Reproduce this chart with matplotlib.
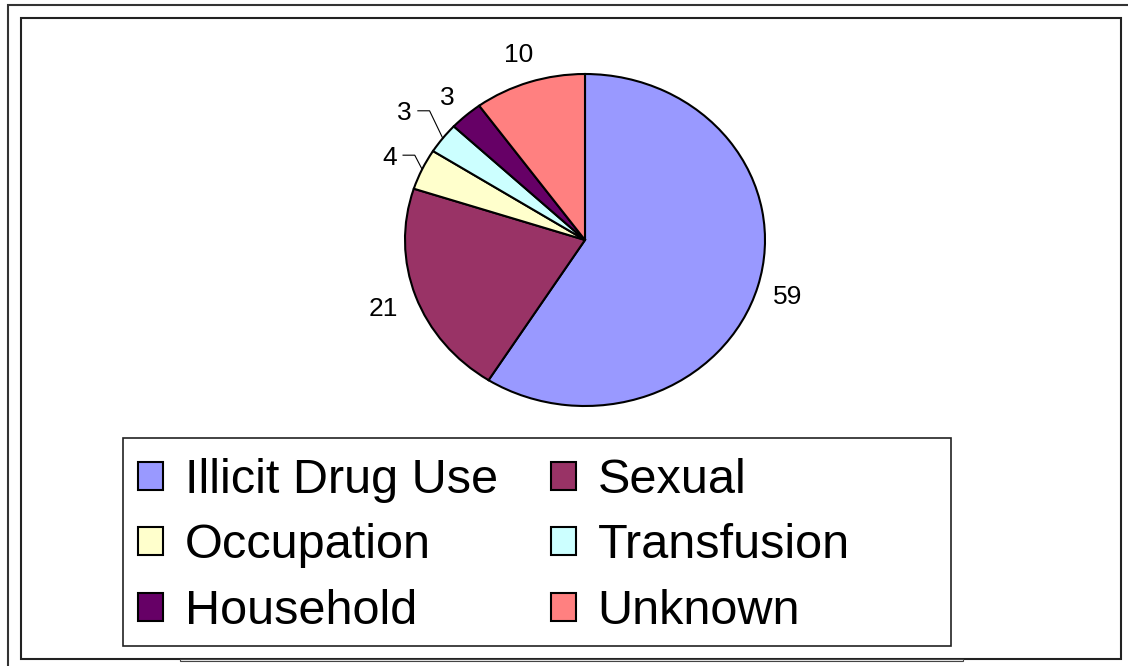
import matplotlib
matplotlib.use("Agg")
import matplotlib.pyplot as plt
from matplotlib.patches import Rectangle, Patch
import numpy as np

plt.rcParams['font.family'] = ['Liberation Sans', 'DejaVu Sans']

# ───── Data ─────
categories = ['Illicit Drug Use', 'Sexual', 'Occupation', 'Transfusion', 'Household', 'Unknown']
values     = [59, 21, 4, 3, 3, 10]
colors     = ['#9999FF', '#993366', '#FFFFCC', '#CCFFFF', '#660066', '#FF8080']

# label distance from centre (radius units), and which labels get a leader line
label_r  = [1.17, 1.19, 1.20, 1.27, 1.16, 1.19]
leader   = [False, False, True, True, False, False]

W, H = 1128, 666
fig = plt.figure(figsize=(W / 100, H / 100), dpi=100)

def fx(px):
    return px / W

def fy(py):
    return 1 - py / H

# ───── Frames ─────
fig.add_artist(Rectangle((fx(8), fy(700)), fx(1200), (700 - 5) / H, transform=fig.transFigure,
                         fill=False, edgecolor='#333333', linewidth=1.5))
fig.add_artist(Rectangle((fx(21), fy(659)), fx(1121 - 21), (659 - 18) / H, transform=fig.transFigure,
                         fill=False, edgecolor='#222222', linewidth=1.5))
fig.add_artist(Rectangle((fx(180), fy(661)), fx(963 - 180), 2 / H, transform=fig.transFigure,
                         fill=False, edgecolor='#444444', linewidth=0.8))

# ───── Pie (slightly elliptical, as in the original) ─────
cx, cy, rx, ry = 585, 240, 180, 166
ax = fig.add_axes([fx(cx - rx), fy(cy + ry), fx(2 * rx), 2 * ry / H])
wedges, _ = ax.pie(values, colors=colors, startangle=90, counterclock=False,
                   wedgeprops=dict(edgecolor='black', linewidth=1.5))
ax.set_aspect('auto')
ax.set_xlim(-1, 1)
ax.set_ylim(-1, 1)
ax.axis('off')

for w, v, r, ld in zip(wedges, values, label_r, leader):
    ang = np.deg2rad((w.theta1 + w.theta2) / 2)
    tx, ty = r * np.cos(ang), r * np.sin(ang)
    ax.text(tx, ty, str(v), ha='center', va='center_baseline', fontsize=19, clip_on=False)
    if ld:
        ex, ey = np.cos(ang), np.sin(ang)
        ax.plot([tx + 0.075, tx + 0.14, ex], [ty, ty, ey], color='black',
                linewidth=0.8, clip_on=False)

# ───── Legend (row-major order, like the original) ─────
fig.add_artist(Rectangle((fx(123), fy(646)), fx(951 - 123), (646 - 438) / H, transform=fig.transFigure,
                         fill=False, edgecolor='#222222', linewidth=1.2))
order = [0, 2, 4, 1, 3, 5]
handles = [Patch(facecolor=colors[i], edgecolor='black', linewidth=1.5) for i in order]
labels = [categories[i] for i in order]
fig.legend(handles, labels, ncol=2, loc='center',
           bbox_to_anchor=(fx(494), fy(546)), frameon=False, fontsize=35,
           handlelength=0.5, handleheight=0.5, handletextpad=0.45,
           columnspacing=1.1, labelspacing=0.42, borderpad=0)

fig.savefig('out.png', dpi=100)
